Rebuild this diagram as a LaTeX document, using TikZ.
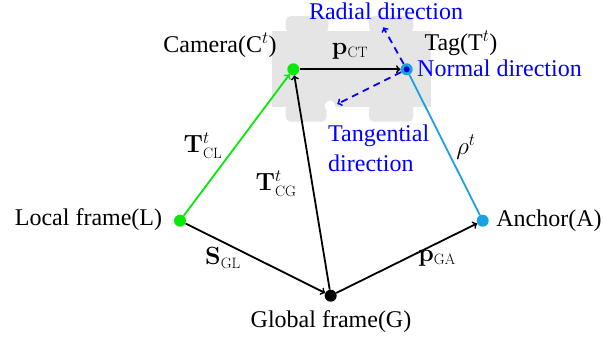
\documentclass[tikz,border=0pt]{standalone}
\usepackage[no-math]{fontspec}
\setmainfont{LiberationSerif}[Extension=.ttf, UprightFont=*-Regular, BoldFont=*-Bold, ItalicFont=*-Italic, BoldItalicFont=*-BoldItalic]
\newcommand\subsc[1]{\mbox{\fontsize{15}{15}\fontfamily{lmr}\selectfont #1}}
\definecolor{camgreen}{RGB}{10,232,10}
\definecolor{anccyan}{RGB}{27,161,226}
\definecolor{tagbg}{RGB}{229,229,229}
\begin{document}
\begin{tikzpicture}[x=1pt,y=-1pt,
  lbl/.style={font=\rmfamily\fontsize{24}{30}\selectfont, inner sep=0pt},
  mlbl/.style={font=\rmfamily\fontsize{23}{28}\selectfont, inner sep=0pt},
  dirlbl/.style={lbl, text=blue},
  dotbase/.style={circle, minimum size=12pt, inner sep=0pt},
  dotg/.style={dotbase, fill=camgreen},
  dotk/.style={dotbase, fill=black},
  dotc/.style={dotbase, fill=anccyan},
  conn/.style={line width=1.8pt, ->},
  dasharrow/.style={line width=1.8pt, blue, dash pattern=on 7pt off 5pt, ->},
  tagpart/.style={fill=tagbg, rounded corners=5pt}
]
\useasboundingbox (0,0) rectangle (603,341);
% tag device background
\fill[tagbg] (271.7,30.7) rectangle (430.7,106.7);
\fill[tagpart] (285.7,16) rectangle (328.3,33);
\fill[tagpart] (369,16) rectangle (413.3,33);
\fill[tagpart] (285.7,104) rectangle (326.7,121.7);
\fill[tagpart] (369,104) rectangle (413.3,121.7);
\fill[white] (330,106) circle (5.5);
% points
\node[dotg] (C) at (293.3,69.3) {};
\node[dotc] (T) at (406.7,69.3) {};
\node[dotg] (L) at (180,220.7) {};
\node[dotk] (G) at (330.7,295.7) {};
\node[dotc] (A) at (482.7,220.7) {};
\coordinate (rad) at (383.3,27.3);
\coordinate (tan) at (337.3,104);
% connectors
\draw[line width=1.8pt, anccyan] (A) -- (T);
\draw[conn, camgreen] (L) -- (C);
\draw[conn] (G) -- (C);
\draw[conn] (C) -- (T);
\draw[conn] (L) -- (G);
\draw[conn] (G) -- (A);
\draw[dasharrow] (T) -- (rad);
\draw[dasharrow] (T) -- (tan);
\fill[blue!80!black] (T.center) circle (3);
% labels
\node[lbl] (camlbl) at (220,45) {Camera(C$^t$)};
\node[mlbl] (pct) at (350,51) {$\mathbf{p}_{\subsc{CT}}$};
\node[lbl] (taglbl) at (461,43) {Tag(T$^t$)};
\node[dirlbl] (normlbl) at (499.5,68) {Normal direction};
\node[dirlbl] (radlbl) at (386,11) {Radial direction};
\node[dirlbl, align=left, anchor=west] (tanlbl) at (328,148) {Tangential\\direction};
\node[mlbl] (tcl) at (203,146) {$\mathbf{T}^t_{\subsc{CL}}$};
\node[mlbl] (tcg) at (276,184) {$\mathbf{T}^t_{\subsc{CG}}$};
\node[mlbl] (rho) at (466,147) {$\rho^t$};
\node[lbl] (loclbl) at (88.5,220) {Local frame(L)};
\node[mlbl] (sgl) at (223,258) {$\mathbf{S}_{\subsc{GL}}$};
\node[mlbl] (pga) at (437,258) {$\mathbf{p}_{\subsc{GA}}$};
\node[lbl] (glolbl) at (331,322) {Global frame(G)};
\node[lbl] (anclbl) at (549,221) {Anchor(A)};
\end{tikzpicture}
\end{document}
